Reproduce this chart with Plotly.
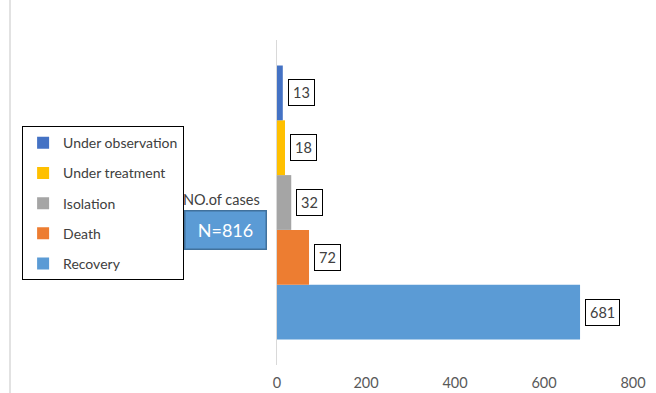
import plotly.graph_objects as go

series = ["Recovery", "Death", "Isolation", "Under treatment", "Under observation"]
values = [681, 72, 32, 18, 13]
colors = ["#5B9BD5", "#ED7D31", "#A5A5A5", "#FFC000", "#4472C4"]
category = ["NO.of cases"]
x_ticks = [0, 200, 400, 600, 800]
total_label = "N=816"

FONT = "Lato"
bargap = 0.157
n = len(series)
bw = (1 - bargap) / n

fig = go.Figure()
for i, (s, v, c) in enumerate(zip(series, values, colors)):
    fig.add_trace(go.Bar(
        y=category, x=[v], name=s, orientation="h",
        marker=dict(color=c, line=dict(width=0)),
        legendgroup=s, legendrank=100 - i,
    ))
    yc = -(1 - bargap) / 2 + (i + 0.5) * bw
    fig.add_annotation(
        x=v, y=yc, xref="x", yref="y", text=str(v), showarrow=False,
        xanchor="left", xshift=5, font=dict(family=FONT, size=14.5, color="#404040"),
        bordercolor="#000000", borderwidth=1, borderpad=4, bgcolor="white",
    )

fig.add_annotation(
    x=-0.042, y=0.508, xref="paper", yref="paper", text=category[0], showarrow=False,
    xanchor="right", yanchor="middle", font=dict(family=FONT, size=14.5, color="#404040"),
)
fig.add_annotation(
    x=-0.028, y=0.415, xref="paper", yref="paper", text=total_label, showarrow=False,
    xanchor="right", yanchor="middle", width=76, height=33,
    font=dict(family=FONT, size=18, color="white"),
    bgcolor="#5B9BD5", bordercolor="#41719C", borderwidth=1.5, borderpad=2,
)

fig.add_shape(type="line", xref="paper", yref="paper", x0=-0.75, x1=-0.75, y0=-0.2, y1=1.2,
              line=dict(color="#d9d9d9", width=1.5))

fig.update_layout(
    width=656, height=393,
    margin=dict(l=277, r=23, t=40, b=28, autoexpand=False),
    plot_bgcolor="white", paper_bgcolor="white",
    barmode="group", bargap=bargap, bargroupgap=0,
    font=dict(family=FONT, size=14, color="#404040"),
    showlegend=True,
    legend=dict(
        x=-0.716, y=0.735, xanchor="left", yanchor="top",
        traceorder="grouped", tracegroupgap=9, itemwidth=30,
        bordercolor="#000000", borderwidth=1, bgcolor="white",
        font=dict(family=FONT, size=14, color="#404040"),
    ),
    xaxis=dict(
        range=[0, 800], tickvals=x_ticks, showgrid=False, zeroline=False,
        showline=False, ticks="", tickfont=dict(family=FONT, size=14.5, color="#595959"),
        ticklabelstandoff=7, automargin=False,
    ),
    yaxis=dict(
        range=[-0.5, 0.5], showgrid=False, zeroline=False, showline=True,
        linecolor="#d9d9d9", linewidth=1, ticks="", showticklabels=False,
        automargin=False,
    ),
)

fig.write_html("out.html")
